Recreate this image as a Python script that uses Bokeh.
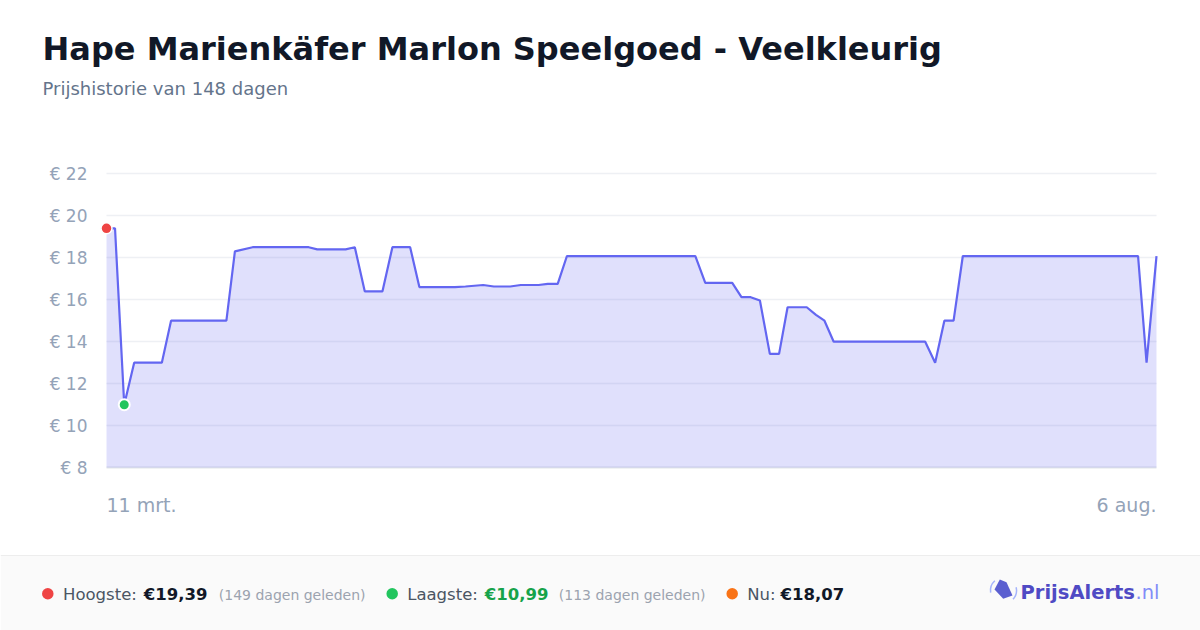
from bokeh.plotting import figure
from bokeh.models import Range1d, ColumnDataSource
from bokeh.core.properties import value
from bokeh.embed import file_html
from bokeh.resources import INLINE

FONT = "DejaVu Sans"

title_text = "Hape Marienkäfer Marlon Speelgoed - Veelkleurig"
subtitle_text = "Prijshistorie van 148 dagen"

# day offsets from 11 mrt. and prices in euro
days = [0, 1.2, 2.5, 3.9, 7.8, 9.1, 16.9, 18.1, 20.6, 28.5,
        29.7, 33.7, 35.0, 36.4, 38.9, 40.3, 42.8, 44.1, 49.1, 50.6,
        53.1, 54.6, 56.9, 58.4, 60.9, 62.2, 63.6, 64.9, 83.0, 84.4,
        88.2, 89.5, 90.8, 92.1, 93.5, 94.8, 96.0, 98.7, 100.0, 101.2,
        102.5, 115.4, 116.8, 118.1, 119.4, 120.7, 145.4, 146.6, 148.0]
prices = [19.39, 19.39, 10.99, 12.99, 12.99, 14.99, 14.99, 18.29, 18.49, 18.49,
          18.39, 18.39, 18.49, 16.39, 16.39, 18.49, 18.49, 16.59, 16.59, 16.62,
          16.69, 16.62, 16.62, 16.69, 16.69, 16.74, 16.74, 18.07, 18.07, 16.79,
          16.79, 16.11, 16.11, 15.95, 13.41, 13.41, 15.63, 15.63, 15.27, 14.99,
          13.99, 13.99, 12.99, 14.99, 14.99, 18.07, 18.07, 12.99, 18.07]

y_ticks = [8, 10, 12, 14, 16, 18, 20, 22]
y_tick_labels = ["€ 8", "€ 10", "€ 12", "€ 14", "€ 16", "€ 18", "€ 20", "€ 22"]
x_tick_labels = ["11 mrt.", "6 aug."]

high_label = ["Hoogste:", "€19,39", "(149 dagen geleden)"]
low_label = ["Laagste:", "€10,99", "(113 dagen geleden)"]
now_label = ["Nu:", "€18,07"]
brand = ["PrijsAlerts", ".nl"]

# ---- layout (pixel positions of the plot area on the page)
W, H = 1200, 630
PX_L, PX_R = 106, 1156      # plot area left / right
PY_T, PY_B = 173, 467       # plot area top / bottom
x_lo, x_hi = days[0], days[-1]
y_lo, y_hi = y_ticks[0], y_ticks[-1]
kx = (PX_R - PX_L) / (x_hi - x_lo)
ky = (PY_B - PY_T) / (y_hi - y_lo)

p = figure(width=W, height=H, output_backend="svg", toolbar_location=None,
           x_range=Range1d(0, W), y_range=Range1d(H, 0),
           x_axis_type=None, y_axis_type=None,
           min_border_left=0, min_border_right=0, min_border_top=0, min_border_bottom=0)
p.title = None
p.outline_line_color = None
p.background_fill_color = "white"
p.border_fill_color = "white"
p.grid.visible = False
p.extra_x_ranges = {"days": Range1d(x_lo - PX_L / kx, x_hi + (W - PX_R) / kx)}
p.extra_y_ranges = {"price": Range1d(y_lo - (H - PY_B) / ky, y_hi + PY_T / ky)}
D = dict(x_range_name="days", y_range_name="price")


def txt(x, y, text, size, color, bold=False, align="left"):
    p.text(x=[x], y=[y], text=[text],
           text_font=value(FONT), text_font_size=value(size),
           text_color=color, text_align=align, text_baseline="middle",
           text_font_style="bold" if bold else "normal")


# ---- header
txt(42, 48, title_text, "32px", "#111827", bold=True)
txt(42, 88, subtitle_text, "18px", "#64748b")

# ---- chart
p.segment(x0=[x_lo] * (len(y_ticks) - 1), x1=[x_hi] * (len(y_ticks) - 1),
          y0=y_ticks[1:], y1=y_ticks[1:], line_color="#eef0f4", line_width=1.5, **D)
p.segment(x0=[x_lo], x1=[x_hi], y0=[y_lo], y1=[y_lo], line_color="#e2e5ea", line_width=2, **D)

src = ColumnDataSource(dict(d=days, v=prices))
p.varea(x="d", y1=y_lo, y2="v", source=src, fill_color="#6366f1", fill_alpha=0.2, **D)
p.line(x="d", y="v", source=src, line_color="#6366f1", line_width=2.2, **D)

imax = prices.index(max(prices))
imin = prices.index(min(prices))
p.scatter([days[imax]], [prices[imax]], size=11, fill_color="#ef4444", line_color="white",
          line_width=1.5, **D)
p.scatter([days[imin]], [prices[imin]], size=11, fill_color="#22c55e", line_color="white",
          line_width=2, **D)

# y tick labels placed on the price scale
p.text(x=[PX_L - 19] * len(y_ticks), y=y_ticks, text=y_tick_labels,
       text_font=value(FONT), text_font_size=value("17px"), text_color="#94a3b8",
       text_align="right", text_baseline="middle", y_range_name="price")
# x tick labels placed on the day scale
p.text(x=[x_lo, x_hi], y=[504, 504], text=x_tick_labels,
       text_font=value(FONT), text_font_size=value("19px"), text_color="#94a3b8",
       text_align=["left", "right"], text_baseline="middle", x_range_name="days")

# ---- footer
p.quad(left=[0], right=[W], top=[555], bottom=[H], fill_color="#fafafa", line_color=None)
p.segment(x0=[0], x1=[W], y0=[555], y1=[555], line_color="#ededed", line_width=1)

FY = 594
p.scatter([47.3, 391.7, 731.7], [593.3, 593.3, 593.3], size=11.5,
          fill_color=["#ef4444", "#22c55e", "#f97316"], line_color=None)
txt(62.5, FY, high_label[0], "16.5px", "#4b5563")
txt(143.3, FY, high_label[1], "16.5px", "#111827", bold=True)
txt(218.3, FY + 0.5, high_label[2], "14px", "#9ca3af")
txt(406.7, FY, low_label[0], "16.5px", "#4b5563")
txt(484.3, FY, low_label[1], "16.5px", "#16a34a", bold=True)
txt(558.3, FY + 0.5, low_label[2], "14px", "#9ca3af")
txt(746.7, FY, now_label[0], "16.5px", "#4b5563")
txt(780, FY, now_label[1], "16.5px", "#111827", bold=True)

icon_x = [994, 999.3, 1006, 1012, 1002.7]
icon_y = [589, 579, 581.7, 595, 598.3]
p.patch(icon_x, icon_y, fill_color="#5b5fd0", line_color=None)
p.arc(x=[1003, 1003], y=[590, 590], radius=[13, 13], start_angle=[2.3, -0.75],
      end_angle=[3.3, 0.25], direction="anticlock", line_color="#a5b4fc", line_width=1.5)
txt(1020, 591.5, brand[0], "19.5px", "#4f4ac4", bold=True)
txt(1135, 591.5, brand[1], "19.5px", "#818cf8")

open("out.html", "w").write(file_html(p, INLINE))
